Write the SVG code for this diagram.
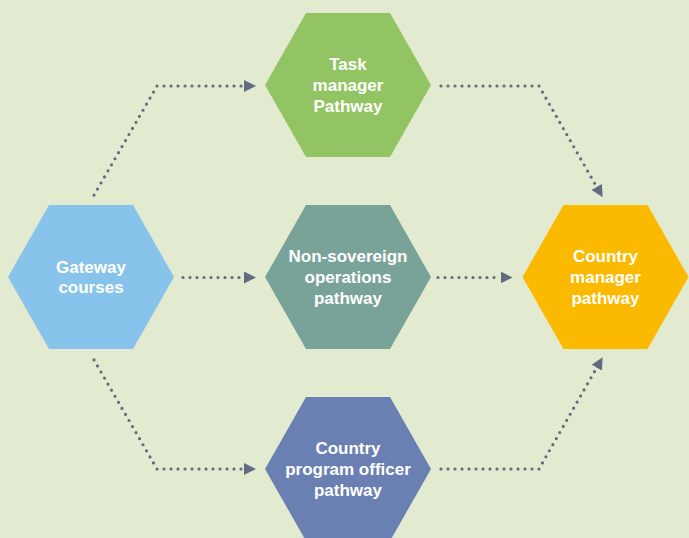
<svg xmlns="http://www.w3.org/2000/svg" width="689" height="538" viewBox="0 0 689 538">
  <style>
    .lbl { font-family: "Liberation Sans", Arial, sans-serif; font-weight: bold; font-size: 17px; fill: #ffffff; text-anchor: middle; }
    .conn { fill: none; stroke: #646a80; stroke-width: 3.2; stroke-linecap: round; stroke-linejoin: round; stroke-dasharray: 0 7; }
  </style>
  <defs>
    <polygon id="hex" points="-42,-72 42,-72 83,0 42,72 -42,72 -83,0"/>
    <marker id="arr" markerUnits="userSpaceOnUse" viewBox="0 0 12 12" markerWidth="12" markerHeight="12" refX="0" refY="6" orient="auto">
      <path d="M0,0 L12,6 L0,12 z" fill="#646a80"/>
    </marker>
  </defs>
  <rect x="0" y="0" width="689" height="538" fill="#e2ebcf"/>

  <g id="connectors">
    <path class="conn" d="M94,195.1 L157,86 L244,86" marker-end="url(#arr)"/>
    <path class="conn" d="M183,277.5 L244,277.5" marker-end="url(#arr)"/>
    <path class="conn" d="M94,359.9 L157,469 L244,469" marker-end="url(#arr)"/>
    <path class="conn" d="M441,86 L539,86 L596.7,186.9" marker-end="url(#arr)"/>
    <path class="conn" d="M438,277.5 L500.7,277.5" marker-end="url(#arr)"/>
    <path class="conn" d="M441,469 L539,469 L596.7,367.7" marker-end="url(#arr)"/>
  </g>

  <g id="gateway">
    <use href="#hex" x="91" y="277" fill="#87c3ea"/>
    <text class="lbl" x="91" y="273">Gateway</text>
    <text class="lbl" x="91" y="292.5">courses</text>
  </g>

  <g id="task-manager">
    <use href="#hex" x="348" y="85" fill="#93c463"/>
    <text class="lbl" x="348" y="69.5">Task</text>
    <text class="lbl" x="348" y="90.5">manager</text>
    <text class="lbl" x="348" y="111.5">Pathway</text>
  </g>

  <g id="non-sovereign">
    <use href="#hex" x="348" y="277" fill="#79a399"/>
    <text class="lbl" x="348" y="262">Non-sovereign</text>
    <text class="lbl" x="348" y="283">operations</text>
    <text class="lbl" x="348" y="304">pathway</text>
  </g>

  <g id="country-manager">
    <use href="#hex" x="605.5" y="277" fill="#fbba00"/>
    <text class="lbl" x="605.5" y="262">Country</text>
    <text class="lbl" x="605.5" y="283">manager</text>
    <text class="lbl" x="605.5" y="304">pathway</text>
  </g>

  <g id="country-program-officer">
    <use href="#hex" x="348" y="469" fill="#6a80b3"/>
    <text class="lbl" x="348" y="454">Country</text>
    <text class="lbl" x="348" y="475">program officer</text>
    <text class="lbl" x="348" y="496">pathway</text>
  </g>
</svg>
